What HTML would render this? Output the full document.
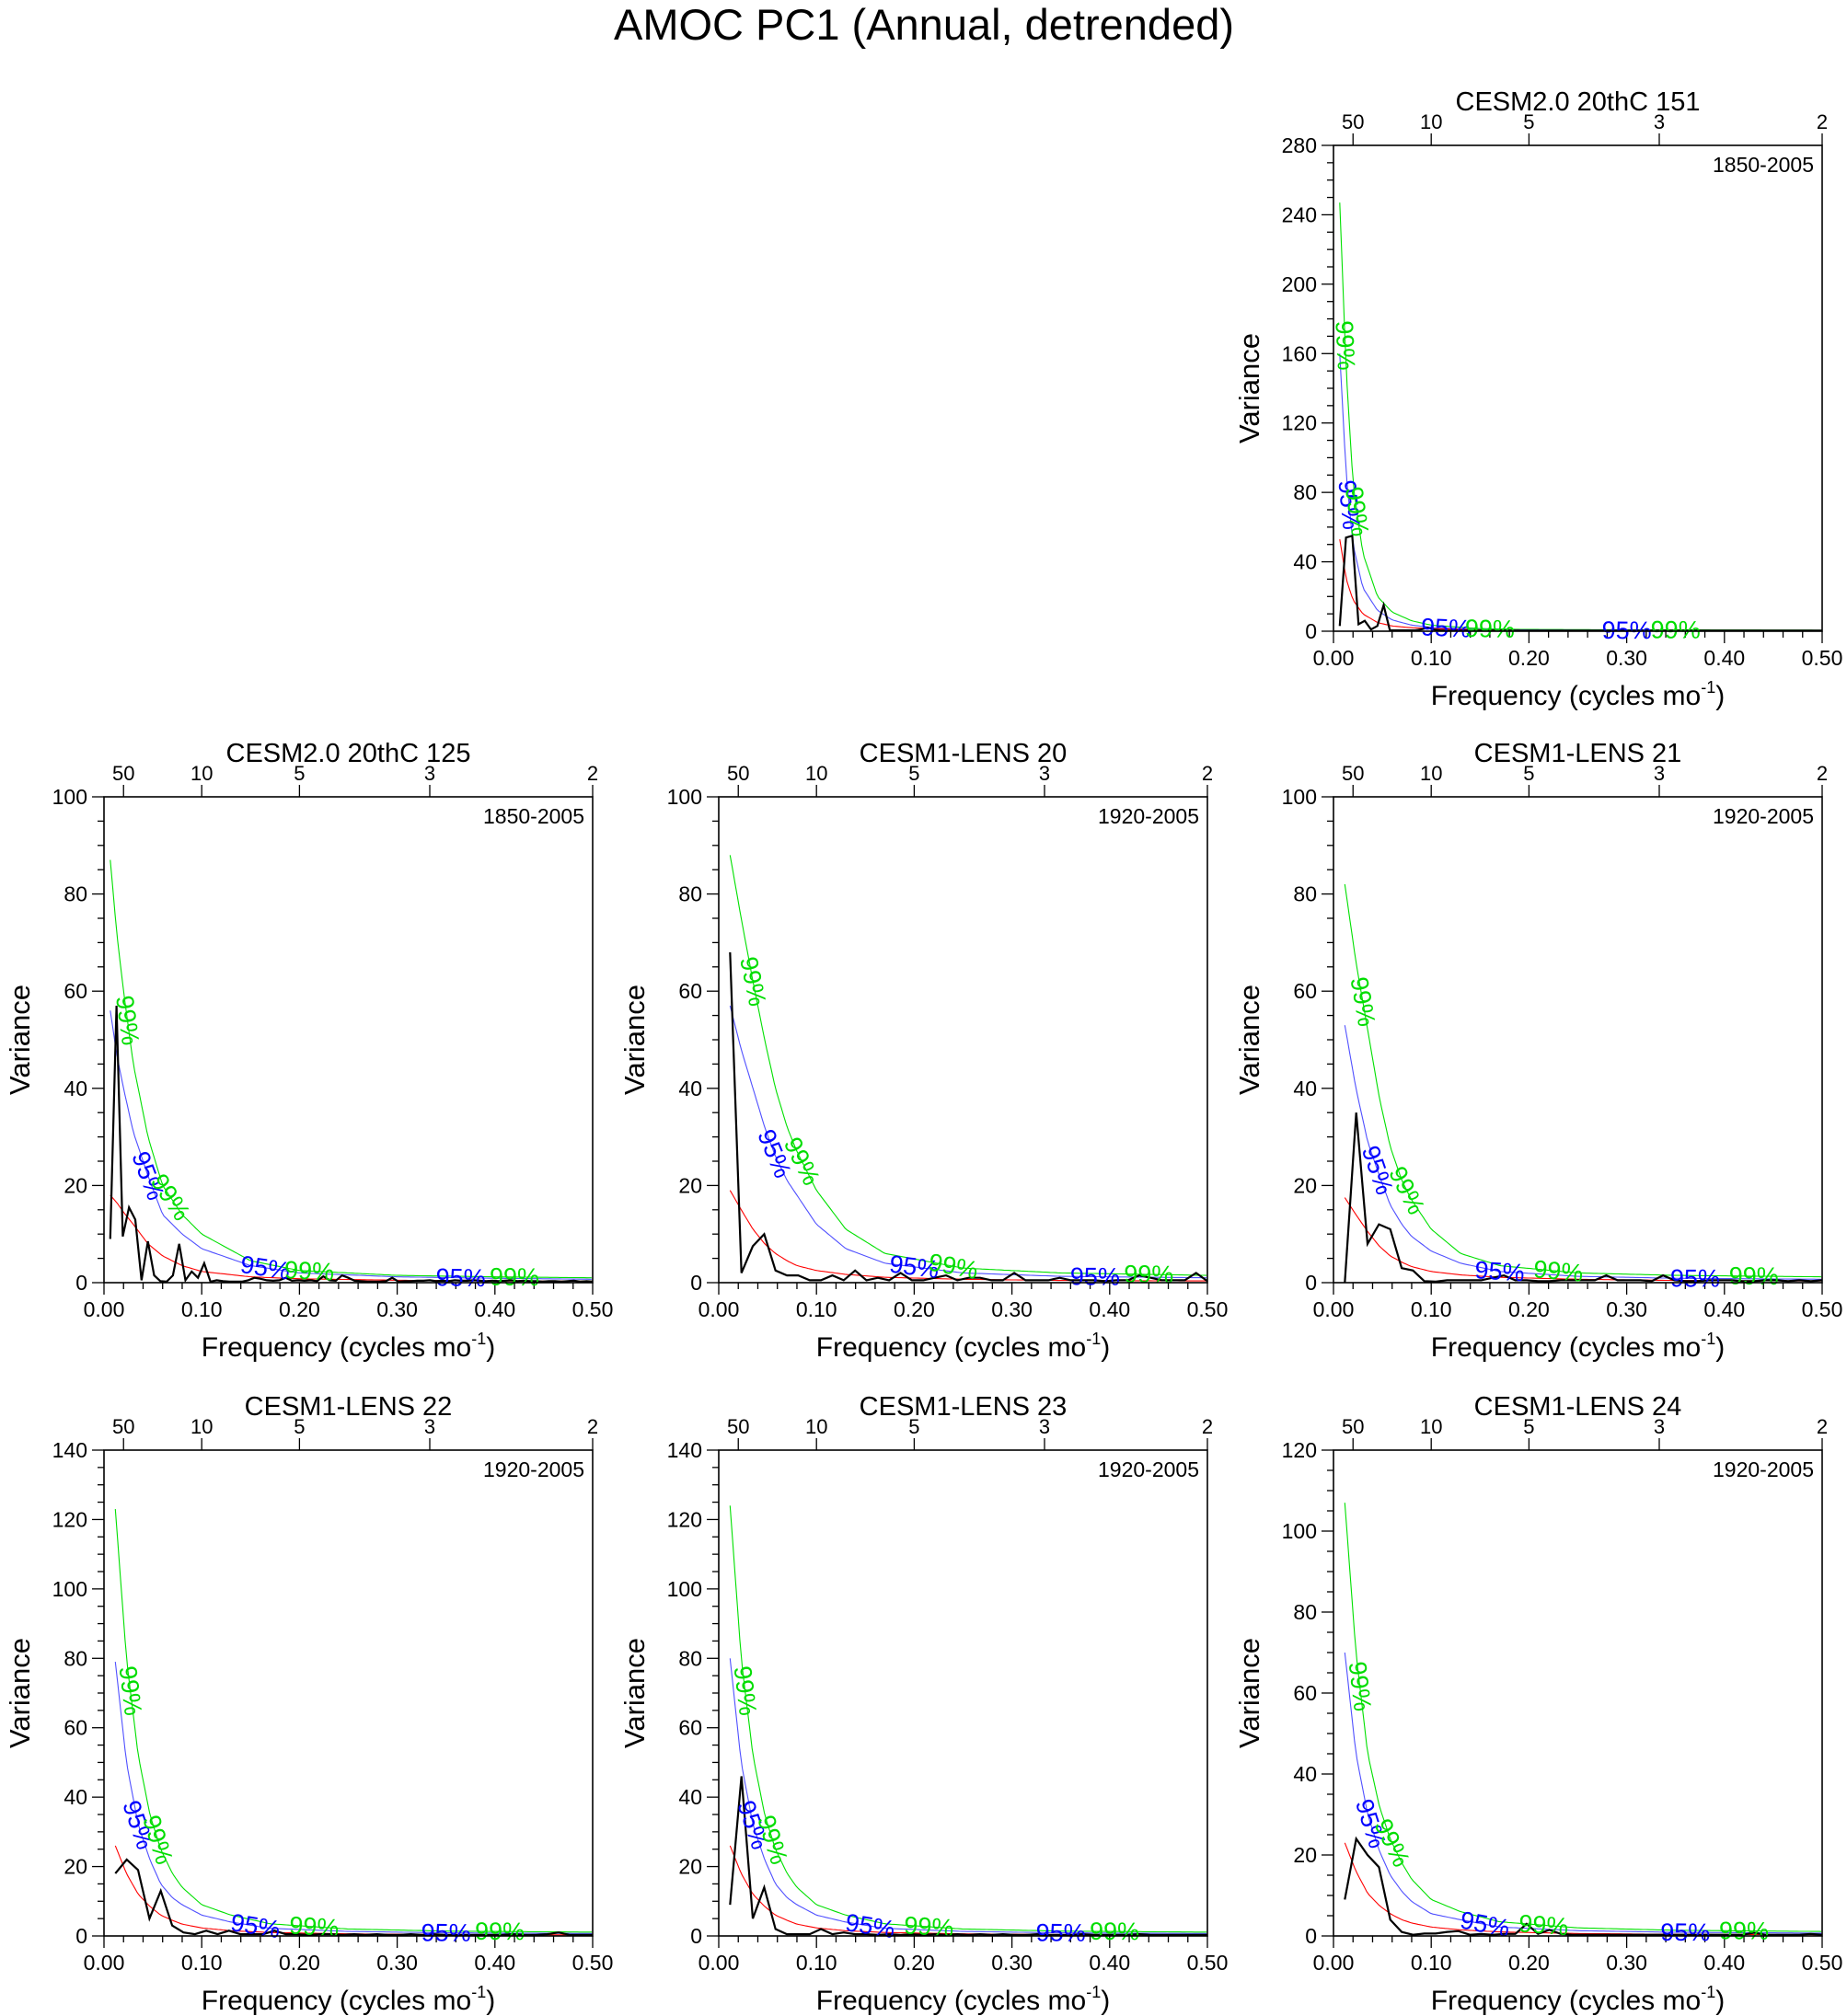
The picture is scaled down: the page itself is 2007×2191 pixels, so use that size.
<!DOCTYPE html>
<html><head><meta charset="utf-8"><style>
html,body{margin:0;padding:0;background:#fff}
svg{display:block;font-family:"Liberation Sans",Arial,sans-serif}
</style></head><body>
<svg id="fig" width="2007" height="2191" viewBox="0 0 2007 2191" xmlns="http://www.w3.org/2000/svg">
<text x="1004" y="43" font-size="47" text-anchor="middle">AMOC PC1 (Annual, detrended)</text>
</svg>
<script>
// ---- data ----
const titles = ["CESM2.0 20thC 151","CESM2.0 20thC 125","CESM1-LENS 20","CESM1-LENS 21","CESM1-LENS 22","CESM1-LENS 23","CESM1-LENS 24"];
const periods = ["1850-2005","1850-2005","1920-2005","1920-2005","1920-2005","1920-2005","1920-2005"];
const yMaxes = [280,100,100,100,140,140,120];
const yMajor = [40,20,20,20,20,20,20];
const yMinor = [10,5,5,5,5,5,5];
const xTicks = [0,0.1,0.2,0.3,0.4,0.5];
const xTickLabels = ["0.00","0.10","0.20","0.30","0.40","0.50"];
const topPeriods = [50,10,5,3,2];
const freqStep = [1/156,1/156,1/86,1/86,1/86,1/86,1/86];
const black151 = [3,54,55,4,6,1,3,15,0.5,0.5,0.5,0.5,0.5,1,2,1,0.5,0.3,0.3,0.3,0.3,0.3,0.3,0.3,0.3,0.3,0.3,0.3,0.3,0.3,0.3,0.3,0.3,0.3,0.3,0.3,0.3,0.3,0.3,0.3,0.3,0.3,0.3,0.3,0.3,0.3,0.3,0.3,0.3,0.3,0.3,0.3,0.3,0.3,0.3,0.3,0.3,0.3,0.3,0.3,0.3,0.3,0.3,0.3,0.3,0.3,0.3,0.3,0.3,0.3,0.3,0.3,0.3,0.3,0.3,0.3,0.3,0.3];
const black125 = [9,57,9.5,15.5,13,0.5,8.5,1.5,0.3,0.2,1.5,8,0.5,2.3,1,4,0.2,0.5,0.3,0.2,0.2,0.2,0.5,1,0.8,0.5,0.4,0.5,1,0.4,0.5,0.4,0.5,0.3,1.3,0.5,0.4,1.5,1,0.4,0.3,0.2,0.2,0.2,0.3,1,0.2,0.3,0.3,0.4,0.4,0.5,0.3,0.4,0.3,0.5,0.4,0.4,0.5,0.4,0.3,0.4,0.3,0.4,0.5,0.3,0.4,0.3,0.3,0.2,0.3,0.3,0.2,0.3,0.4,0.2,0.3,0.2];
const black20 = [68,2,7.5,10,2.5,1.5,1.5,0.5,0.5,1.5,0.5,2.5,0.5,1,0.5,2,0.5,0.5,1,1.5,0.5,1,1,0.5,0.5,2,0.5,0.5,0.5,1,0.5,0.5,0.5,0.3,0.5,0.5,1.5,1,0.5,0.5,0.5,2,0.3];
const black21 = [0,35,8,12,11,3,2.5,0.3,0.2,0.5,0.5,0.5,0.5,1,1.5,0.5,0.5,0.3,0.3,0.5,0.5,0.5,0.5,1.5,0.5,0.5,0.5,0.3,1.5,0.5,0.3,0.3,0.5,0.5,0.5,0.3,0.3,0.5,0.5,0.3,0.5,0.3,0.5];
const black22 = [18,22,19,5,13,3,1,0.5,1.5,0.5,1.5,0.5,0.5,0.5,1.5,0.5,0.5,0.3,0.5,0.5,0.3,0.5,0.3,0.5,0.3,0.3,0.5,0.3,0.5,0.3,0.3,0.3,0.3,0.3,0.3,0.5,0.3,0.3,0.5,1,0.3,0.3,0.3];
const black23 = [9,46,5,14,2,0.5,0.5,0.5,2,0.5,1,0.5,0.5,0.3,0.5,0.3,0.5,0.3,0.5,0.3,0.5,0.3,0.5,0.3,0.5,0.3,0.3,0.5,0.3,0.3,0.3,0.5,0.3,0.3,0.3,0.3,0.5,0.3,0.3,0.3,0.3,0.3,0.3];
const black24 = [9,24,20,17,4,1,0.3,0.6,0.6,1,1.2,0.3,0.5,0.3,0.5,0.5,3,0.5,1.5,0.5,0.3,0.3,0.3,0.3,0.3,0.3,0.3,0.3,0.3,0.3,0.3,0.3,0.3,0.3,0.3,0.3,0.8,0.3,0.3,0.3,0.3,0.5,0.3];
const blacks = [black151,black125,black20,black21,black22,black23,black24];
const redFreq156 = [0.0064,0.013,0.02,0.03,0.045,0.06,0.08,0.1,0.15,0.2,0.3,0.4,0.5];
const redFreq86 = [0.0116,0.023,0.035,0.047,0.058,0.07,0.08,0.1,0.13,0.17,0.25,0.35,0.5];
const red151 = [53,30,18,10,5,3,2,1.5,0.8,0.5,0.35,0.3,0.25];
const red125 = [18,16.5,14.5,12,8,5.5,3.5,2.3,1.2,0.8,0.5,0.35,0.3];
const red20 = [19,15,11,8,6,4.5,3.5,2.5,1.7,1.1,0.7,0.45,0.35];
const red21 = [17.5,14,10.5,7.5,5.5,4.2,3.3,2.3,1.6,1.1,0.7,0.45,0.35];
const red22 = [26,18,12,8.5,6,4.5,3.4,2.3,1.5,1,0.6,0.4,0.3];
const red23 = [26,18,12,8.5,6,4.5,3.4,2.3,1.5,1,0.6,0.4,0.3];
const red24 = [23,16,10.5,7.5,5.5,4,3.2,2.2,1.5,1,0.6,0.4,0.3];
const blue151 = [160,90,50,25,12,6.5,3.5,2.2,1,0.7,0.5,0.4,0.4];
const blue125 = [56,47,40,31,22,14,10,7,3.5,2,1.2,0.9,0.7];
const blue20 = [57,48,40,32,26,21,18,12,7,4,2,1.3,1.0];
const blue21 = [53,40,29,22,16,12,9.5,6.5,4,2.3,1.3,0.9,0.7];
const blue22 = [79,50,32,22,15,11,9,6,4,2.2,1.3,0.9,0.7];
const blue23 = [80,50,32,22,15,11,9,6,4,2.2,1.3,0.9,0.7];
const blue24 = [70,45,30,21,15,11,8.5,5.5,4,2.2,1.3,0.9,0.7];
const green151 = [247,150,85,45,20,11,6,3.5,1.5,1,0.8,0.7,0.6];
const green125 = [87,72,60,45,30,20,14,10,4.5,2.5,1.5,1.2,1.0];
const green20 = [88,75,62,50,40,32,27,19,11,6,3,2,1.5];
const green21 = [82,66,52,38,28,21,17,11,6,3.5,2,1.5,1.2];
const green22 = [123,80,52,35,25,18,14,9,6,3.5,2,1.4,1.1];
const green23 = [124,80,52,35,25,18,14,9,6,3.5,2,1.4,1.1];
const green24 = [107,70,45,32,24,18,14,9,6,3.5,2,1.4,1.1];
const reds = [red151,red125,red20,red21,red22,red23,red24];
const blues = [blue151,blue125,blue20,blue21,blue22,blue23,blue24];
const greens = [green151,green125,green20,green21,green22,green23,green24];
const redFreqs = [redFreq156,redFreq156,redFreq86,redFreq86,redFreq86,redFreq86,redFreq86];
// label frequencies: [green1, blue1, green2, blueLow1, greenLow1, blueLow2, greenLow2]
const labelFreqs = [
 [0.012,0.016,0.024,0.115,0.16,0.3,0.35],
 [0.024,0.045,0.068,0.165,0.21,0.365,0.42],
 [0.035,0.057,0.085,0.2,0.24,0.385,0.44],
 [0.03,0.045,0.075,0.17,0.23,0.37,0.43],
 [0.027,0.035,0.055,0.155,0.215,0.35,0.405],
 [0.027,0.035,0.055,0.155,0.215,0.35,0.405],
 [0.027,0.038,0.06,0.155,0.215,0.36,0.42]];
// ---- layout ----
const lefts=[1449,113,781,1449,113,781,1449];
const tops=[158,866,866,866,1576,1576,1576];
const W=531,H=528;
const NS="http://www.w3.org/2000/svg";
const svg=document.getElementById('fig');
function mk(tag,attrs,parent,text){const e=document.createElementNS(NS,tag);for(const k in attrs)e.setAttribute(k,attrs[k]);if(text!==undefined)e.textContent=text;(parent||svg).appendChild(e);return e;}
function interp(xs,ys,x){if(x<=xs[0])return ys[0];for(let i=1;i<xs.length;i++){if(x<=xs[i]){const t=(x-xs[i-1])/(xs[i]-xs[i-1]);return ys[i-1]+t*(ys[i]-ys[i-1]);}}return ys[ys.length-1];}
for(let p=0;p<7;p++){
 const L=lefts[p],T=tops[p],ymax=yMaxes[p];
 const sx=f=>L+f/0.5*W, sy=v=>T+H-v/ymax*H;
 const g=mk('g',{},svg);
 
 
 const pt=mk('text',{x:L+W/2,y:T-38,'font-size':29,'text-anchor':'middle'},g,titles[p]);
 
 const yr=mk('text',{x:L+W-9,y:T+29,'font-size':23,'text-anchor':'end'},g,periods[p]);
 
 for(let v=0;v<=ymax+1e-9;v+=yMinor[p]){const maj=Math.abs(v/yMajor[p]-Math.round(v/yMajor[p]))<1e-6;mk('line',{x1:L-(maj?13:7),x2:L,y1:sy(v),y2:sy(v),stroke:'#000','stroke-width':1.3},g);
  if(maj){const t=mk('text',{x:L-18,y:sy(v)+8,'font-size':23,'text-anchor':'end'},g,String(v));}}
 for(let k=0;k<=25;k++){const f=k*0.02;const maj=k%5===0;mk('line',{x1:sx(f),x2:sx(f),y1:T+H,y2:T+H+(maj?13:7),stroke:'#000','stroke-width':1.3},g);}
 xTicks.forEach((f,i)=>{const t=mk('text',{x:sx(f),y:T+H+37,'font-size':23,'text-anchor':'middle'},g,xTickLabels[i]);});
 topPeriods.forEach(pp=>{const f=1/pp;mk('line',{x1:sx(f),x2:sx(f),y1:T,y2:T-13,stroke:'#000','stroke-width':1.3},g);const t=mk('text',{x:sx(f),y:T-18,'font-size':22,'text-anchor':'middle'},g,String(pp));});
 const xt=mk('text',{x:L+W/2,y:T+H+80,'font-size':30,'text-anchor':'middle'},g);
 
 xt.innerHTML='Frequency (cycles mo<tspan font-size="18" dy="-13">-1</tspan><tspan dy="13">)</tspan>';
 const yt=mk('text',{x:0,y:0,'font-size':31,'text-anchor':'middle',transform:`translate(${L-81},${T+H/2}) rotate(-90)`},g,'Variance');
 
 const rf=redFreqs[p];
 const dense=[];for(let f=rf[0];f<=0.5+1e-9;f+=0.0025)dense.push(f);
 const curve=(arr,color,name)=>{const d=dense.map((f,i)=>(i?'L':'M')+sx(f).toFixed(1)+','+sy(interp(rf,arr,f)).toFixed(1)).join('');const e=mk('path',{d,fill:'none',stroke:color,'stroke-width':1.1},g);};
 curve(greens[p],'#00e000','conf99-curve');
 curve(blues[p],'#5050ff','conf95-curve');
 curve(reds[p],'#ff0000','red-noise-curve');
 const b=blacks[p];
 const bd=b.map((v,i)=>(i?'L':'M')+sx((i+1)*freqStep[p]).toFixed(1)+','+sy(Math.min(v,ymax)).toFixed(1)).join('');
 const bl=mk('path',{d:bd,fill:'none',stroke:'#000','stroke-width':2.2},g);
 
 const lf=labelFreqs[p];
 const specs=[[lf[0],greens[p],'#00dd00','99%'],[lf[1],blues[p],'#0000ff','95%'],[lf[2],greens[p],'#00dd00','99%'],[lf[3],blues[p],'#0000ff','95%'],[lf[4],greens[p],'#00dd00','99%'],[lf[5],blues[p],'#0000ff','95%'],[lf[6],greens[p],'#00dd00','99%']];
 specs.forEach(s=>{const f=s[0],arr=s[1];const x=sx(f),y=sy(interp(rf,arr,f));const x2=sx(f+0.002),y2=sy(interp(rf,arr,f+0.002));let a=Math.atan2(y2-y,x2-x)*180/Math.PI;
  const t=mk('text',{x:0,y:9,'font-size':27,'text-anchor':'middle',fill:s[2],transform:`translate(${x.toFixed(1)},${y.toFixed(1)}) rotate(${a.toFixed(1)})`},g,s[3]);
  });
 const fr=mk('rect',{x:L,y:T,width:W,height:H,fill:'none',stroke:'#000','stroke-width':1.6},g);
 
}
</script>
</body></html>
